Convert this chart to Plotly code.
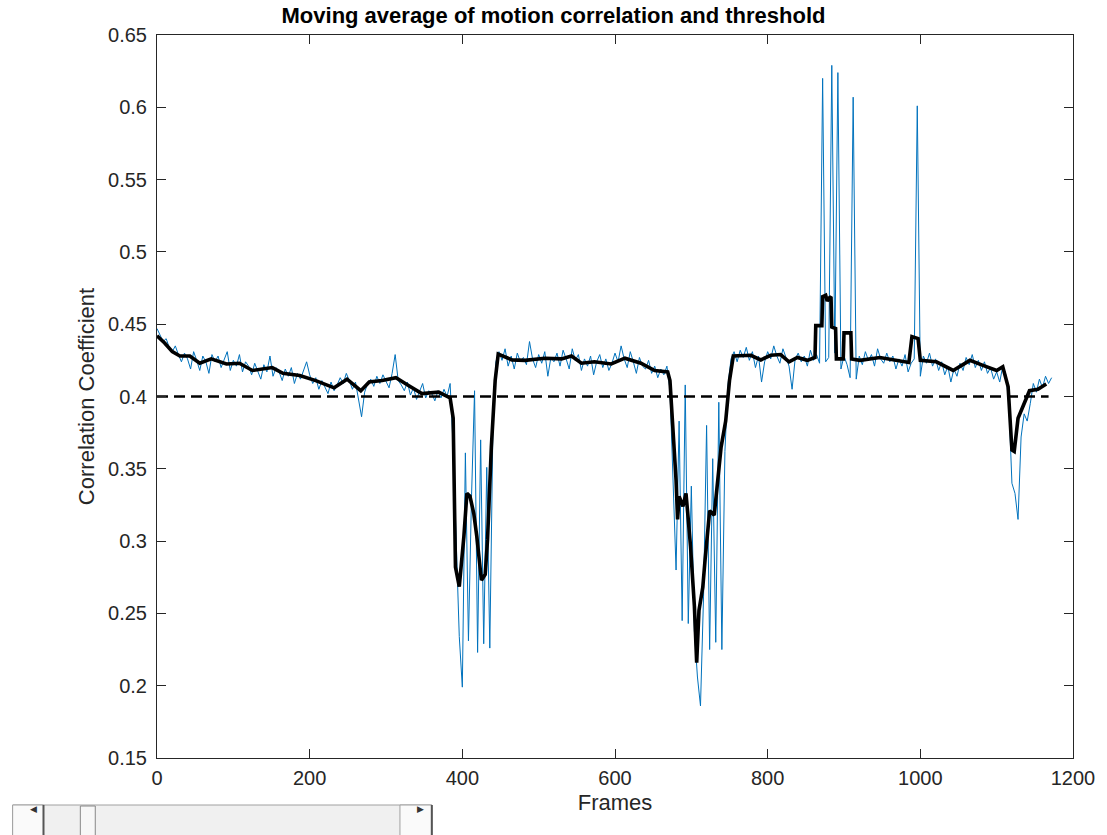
import plotly.graph_objects as go

# ---------------- data ----------------
frames = list(range(0, 1173, 4))
corr = [
    0.447, 0.443, 0.438, 0.440, 0.434, 0.431, 0.435, 0.429, 0.424, 0.430,
    0.426, 0.419, 0.431, 0.425, 0.418, 0.428, 0.424, 0.416, 0.429, 0.424,
    0.428, 0.420, 0.426, 0.431, 0.418, 0.425, 0.421, 0.429, 0.417, 0.424,
    0.421, 0.415, 0.423, 0.418, 0.412, 0.422, 0.417, 0.428, 0.414, 0.420,
    0.417, 0.411, 0.419, 0.414, 0.420, 0.409, 0.416, 0.412, 0.418, 0.424,
    0.415, 0.409, 0.413, 0.405, 0.411, 0.407, 0.402, 0.410, 0.404, 0.408,
    0.413, 0.409, 0.416, 0.411, 0.405, 0.410, 0.398, 0.386, 0.403, 0.409,
    0.412, 0.407, 0.414, 0.409, 0.415, 0.410, 0.406, 0.416, 0.429, 0.411,
    0.408, 0.404, 0.410, 0.401, 0.406, 0.398, 0.403, 0.409, 0.399, 0.404,
    0.402, 0.397, 0.404, 0.399, 0.405, 0.400, 0.409, 0.365, 0.300, 0.234,
    0.199, 0.361, 0.231, 0.330, 0.404, 0.223, 0.370, 0.229, 0.351, 0.226,
    0.376, 0.424, 0.431, 0.425, 0.433, 0.421, 0.428, 0.419, 0.430, 0.424,
    0.427, 0.422, 0.438, 0.426, 0.420, 0.429, 0.423, 0.431, 0.414, 0.427,
    0.424, 0.430, 0.421, 0.432, 0.426, 0.419, 0.433, 0.425, 0.429, 0.418,
    0.426, 0.421, 0.428, 0.415, 0.424, 0.429, 0.420, 0.426, 0.418, 0.423,
    0.430, 0.424, 0.435, 0.426, 0.420, 0.431, 0.424, 0.416, 0.427, 0.421,
    0.419, 0.425, 0.416, 0.421, 0.413, 0.419, 0.415, 0.421, 0.405, 0.345,
    0.280, 0.383, 0.245, 0.408, 0.243, 0.338, 0.238, 0.206, 0.186, 0.262,
    0.380, 0.225, 0.357, 0.230, 0.396, 0.225, 0.362, 0.408, 0.426, 0.431,
    0.424, 0.432, 0.427, 0.434, 0.425, 0.431, 0.420, 0.428, 0.410, 0.424,
    0.431, 0.426, 0.435, 0.428, 0.423, 0.433, 0.427, 0.421, 0.405, 0.426,
    0.430, 0.424, 0.428, 0.421, 0.432, 0.425, 0.429, 0.423, 0.620, 0.424,
    0.427, 0.629, 0.430, 0.624, 0.419, 0.428, 0.422, 0.413, 0.607, 0.412,
    0.428, 0.422, 0.431, 0.425, 0.429, 0.421, 0.433, 0.426, 0.423, 0.430,
    0.424, 0.428, 0.419, 0.426, 0.421, 0.429, 0.417, 0.423, 0.426, 0.601,
    0.414, 0.428, 0.423, 0.430, 0.421, 0.426, 0.418, 0.424, 0.415, 0.421,
    0.410, 0.419, 0.414, 0.423, 0.418, 0.427, 0.422, 0.429, 0.420, 0.425,
    0.418, 0.424, 0.416, 0.420, 0.412, 0.417, 0.410, 0.421, 0.415, 0.395,
    0.340, 0.333, 0.315, 0.372, 0.388, 0.383, 0.395, 0.409, 0.403, 0.412,
    0.406, 0.414, 0.409, 0.413,
]

avg_frames = [
    0, 10, 20, 30, 43, 56, 71, 91, 108, 125, 151, 165, 187, 208, 232, 249,
    267, 278, 295, 313, 330, 347, 369, 380, 384, 388, 391, 396, 402, 406,
    410, 415, 419, 425, 430, 433, 438, 443, 447, 465, 482, 508, 530, 543,
    556, 573, 595, 613, 634, 652, 669, 672, 676, 680, 682, 684, 689, 693,
    695, 699, 704, 707, 710, 715, 718, 721, 724, 730, 734, 739, 745, 750,
    755, 778, 791, 804, 817, 828, 839, 852, 862, 863, 871, 872, 876, 878,
    880, 883, 884, 889, 890, 899, 900, 909, 910, 921, 947, 969, 985, 989,
    997, 1000, 1021, 1043, 1065, 1082, 1100, 1108, 1115, 1120, 1123, 1128,
    1139, 1143, 1154, 1165,
]
avg_corr = [
    0.442, 0.437, 0.431, 0.428, 0.428, 0.423, 0.426, 0.4225, 0.423, 0.418,
    0.420, 0.416, 0.4145, 0.411, 0.406, 0.412, 0.404, 0.410, 0.411, 0.413,
    0.4075, 0.402, 0.403, 0.400, 0.399, 0.385, 0.282, 0.2685, 0.303, 0.333,
    0.331, 0.319, 0.303, 0.273, 0.277, 0.301, 0.365, 0.411, 0.4294, 0.4253,
    0.425, 0.4265, 0.426, 0.428, 0.423, 0.424, 0.4225, 0.4265, 0.423, 0.418,
    0.417, 0.411, 0.377, 0.342, 0.315, 0.331, 0.324, 0.333, 0.321, 0.296,
    0.255, 0.216, 0.252, 0.268, 0.287, 0.303, 0.321, 0.318, 0.342, 0.365,
    0.383, 0.411, 0.428, 0.4285, 0.4253, 0.4285, 0.429, 0.424, 0.427, 0.425,
    0.427, 0.449, 0.449, 0.469, 0.470, 0.466, 0.468, 0.469, 0.448, 0.447,
    0.426, 0.426, 0.444, 0.444, 0.426, 0.425, 0.427, 0.425, 0.4235, 0.4414,
    0.440, 0.425, 0.424, 0.418, 0.425, 0.4215, 0.418, 0.4206, 0.4067, 0.363,
    0.362, 0.385, 0.400, 0.404, 0.405, 0.4086,
]

threshold_frames = [0, 1168]
threshold = [0.4, 0.4]

x_ticks = [0, 200, 400, 600, 800, 1000, 1200]
y_ticks = [0.15, 0.2, 0.25, 0.3, 0.35, 0.4, 0.45, 0.5, 0.55, 0.6, 0.65]
y_tick_text = ["0.15", "0.2", "0.25", "0.3", "0.35", "0.4", "0.45", "0.5",
               "0.55", "0.6", "0.65"]

# ---------------- figure ----------------
W, H = 1107, 835
L, R, T, B = 157, 30, 35, 77
PW, PH = W - L - R, H - T - B


def px(x):
    return (x - L) / PW


def py(y):
    return (H - B - y) / PH


FONT = "Liberation Sans, Arial, Helvetica, sans-serif"
AX = "#262626"

fig = go.Figure()
fig.add_trace(go.Scatter(x=frames, y=corr, mode="lines",
                         line=dict(color="#0072BD", width=1), showlegend=False))
fig.add_trace(go.Scatter(x=avg_frames, y=avg_corr, mode="lines",
                         line=dict(color="black", width=3.6), showlegend=False))
fig.add_trace(go.Scatter(x=threshold_frames, y=threshold, mode="lines",
                         line=dict(color="black", width=2.5, dash="11px,6px"),
                         showlegend=False))

axis_common = dict(
    showgrid=False, zeroline=False, showline=True, linecolor=AX, linewidth=1,
    mirror="ticks", ticks="inside", ticklen=9, tickcolor=AX, tickwidth=1,
    tickfont=dict(family=FONT, size=20, color=AX),
)

fig.update_layout(
    width=W, height=H, autosize=False,
    margin=dict(l=L, r=R, t=T, b=B, pad=0),
    paper_bgcolor="white", plot_bgcolor="white",
    title=dict(text="<b>Moving average of motion correlation and threshold</b>",
               x=px(617), xanchor="center", y=1 - 15 / H, yanchor="middle",
               font=dict(family=FONT, size=22, color="black")),
    xaxis=dict(range=[0, 1200], tickvals=x_ticks, ticklabelstandoff=2,
               title=dict(text="Frames", standoff=6,
                          font=dict(family=FONT, size=22, color=AX)),
               **axis_common),
    yaxis=dict(range=[0.15, 0.65], tickvals=y_ticks, ticktext=y_tick_text,
               ticklabelstandoff=5,
               title=dict(text="Correlation Coefficient", standoff=7,
                          font=dict(family=FONT, size=22, color=AX)),
               **axis_common),
)

# MATLAB-style horizontal slider below the axes (figure UI decoration)
shapes = []
sb_top, sb_bot = 805, 836
shapes.append(dict(type="rect", xref="paper", yref="paper",
                   x0=px(12), x1=px(433), y0=py(sb_bot), y1=py(sb_top),
                   fillcolor="#f0f0f0", line=dict(color="#a0a0a0", width=1)))
shapes.append(dict(type="rect", xref="paper", yref="paper",
                   x0=px(12), x1=px(43), y0=py(sb_bot), y1=py(sb_top),
                   fillcolor="#fafafa", line=dict(color="#a0a0a0", width=1)))
shapes.append(dict(type="rect", xref="paper", yref="paper",
                   x0=px(401), x1=px(433), y0=py(sb_bot), y1=py(sb_top),
                   fillcolor="#fafafa", line=dict(color="#a0a0a0", width=1)))
shapes.append(dict(type="line", xref="paper", yref="paper",
                   x0=px(43), x1=px(43), y0=py(sb_bot), y1=py(sb_top),
                   line=dict(color="#555555", width=2)))
shapes.append(dict(type="line", xref="paper", yref="paper",
                   x0=px(433), x1=px(433), y0=py(sb_bot), y1=py(sb_top),
                   line=dict(color="#555555", width=2)))
shapes.append(dict(type="rect", xref="paper", yref="paper",
                   x0=px(80), x1=px(95), y0=py(sb_bot), y1=py(sb_top + 1),
                   fillcolor="#f7f7f7", line=dict(color="#888888", width=1)))
fig.update_layout(shapes=shapes)
fig.add_annotation(x=px(27), y=py(816), xref="paper", yref="paper",
                   text="◀", showarrow=False,
                   font=dict(size=9, color="#333333", family="DejaVu Sans"))
fig.add_annotation(x=px(416), y=py(816), xref="paper", yref="paper",
                   text="▶", showarrow=False,
                   font=dict(size=9, color="#333333", family="DejaVu Sans"))

fig.write_html("out.html")
